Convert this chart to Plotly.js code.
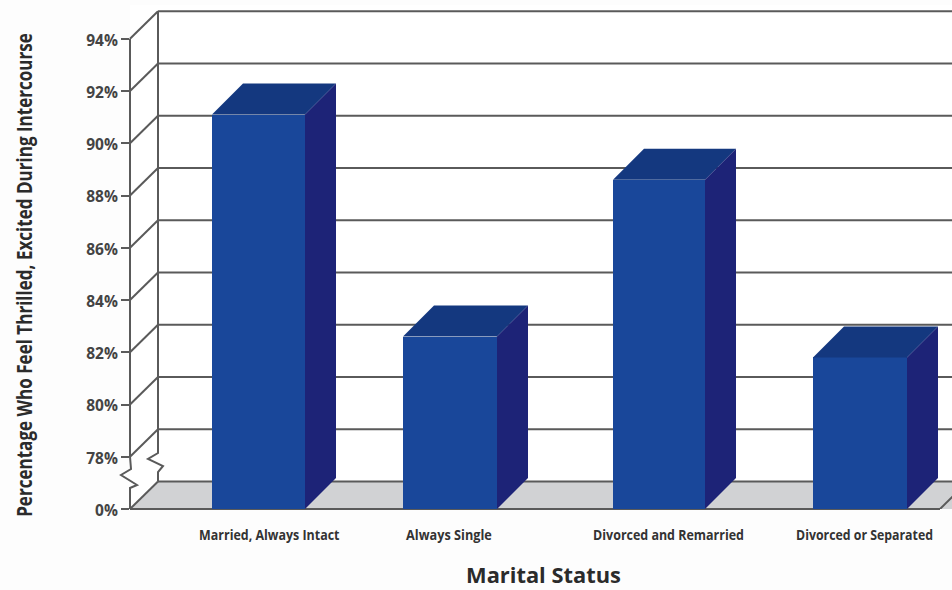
<!DOCTYPE html>
<html>
<head>
<meta charset="utf-8">
<script src="https://cdn.plot.ly/plotly-3.0.1.min.js"></script>
<style>html,body{margin:0;padding:0;background:#fdfdfd}</style>
</head>
<body>
<div id="chart" style="width:952px;height:590px"></div>
<script>
// ---- chart values ----
const categories = ["Married, Always Intact", "Always Single", "Divorced and Remarried", "Divorced or Separated"];
const percentages = [91.1, 82.6, 88.6, 81.8];
const tickValues = [78, 80, 82, 84, 86, 88, 90, 92, 94];
const axisTitleY = "Percentage Who Feel Thrilled, Excited During Intercourse";
const axisTitleX = "Marital Status";

// ---- layout constants (separate from the data) ----
const W = 952, H = 590;
const plotL = 130, plotB = 509, plotT = 5;
const pxPerUnit = 26.125;
const breakBase = 76;                       // axis position of the "0%" tick, below the axis break
const yTop = breakBase + (plotB - plotT) / pxPerUnit;
const barCenters = [258.5, 450, 659, 860];
const barWidths = [93, 94, 92, 94];
const labelCenters = [269.5, 449, 668.5, 864.5];
const labelLengths = [141, 86, 151, 137];
const barDx = 31, barDy = 31 / pxPerUnit;   // bar depth
const wallDx = 28, wallDy = 27.5 / pxPerUnit; // wall / floor depth
const lineColor = "#5a5a5a";
const C = {front: "#19479a", top: "#14387f", side: "#1d2377", floor: "#d1d2d4"};
const FONT = "'Open Sans', 'Noto Sans', sans-serif";

const px = p => (p - plotL) / (W - plotL);  // page x to paper fraction (not clipped to the plot)
const dy = p => p / pxPerUnit;              // pixels to axis units
const hline = {color: lineColor, width: 2};
const seg = (x0, y0, x1, y1) => ({type: "line", layer: "below", xref: "paper", yref: "y",
  x0: px(x0), x1: px(x1), y0, y1, line: hline});
const poly = (xs, ys) => ({type: "path", layer: "below", xref: "paper", yref: "y", line: hline,
  path: xs.map((x, i) => (i ? "L" : "M") + px(x) + "," + ys[i]).join(" ")});

const fx = plotL, bx = plotL + wallDx, floorBack = breakBase + wallDy;
const shapes = [];
// floor
shapes.push({type: "path", layer: "below", xref: "paper", yref: "y", fillcolor: C.floor, line: {width: 0},
  path: `M${px(fx)},${breakBase} L${px(bx)},${floorBack} L${px(W + 40)},${floorBack} L${px(W + 12)},${breakBase} Z`});
shapes.push({type: "line", layer: "below", xref: "paper", yref: "paper", x0: px(fx), x1: px(W - 12), y0: 0, y1: 0, line: hline});
shapes.push(seg(W - 12, breakBase, W + 16, floorBack));
shapes.push(seg(fx, breakBase, bx, floorBack));
shapes.push(seg(bx, floorBack, W + 40, floorBack));
// grid on back wall + diagonals on side wall
tickValues.forEach(v => {
  shapes.push(seg(bx, v + wallDy, W + 40, v + wallDy));
  shapes.push(seg(fx, v, bx, v + wallDy));
});
// front and back verticals with their zigzag breaks
shapes.push(poly(
  [fx, fx, fx + 7, fx - 9, fx + 1, fx, fx],
  [breakBase, breakBase + dy(21), breakBase + dy(24), breakBase + dy(34), breakBase + dy(40), 78, 94]));
shapes.push(poly(
  [bx, bx, bx + 5, bx - 10, bx, bx, bx],
  [floorBack, breakBase + dy(37), breakBase + dy(43), breakBase + dy(50), breakBase + dy(56), 78 + wallDy, 94 + wallDy]));

const traces = [];
// front faces
traces.push({type: "bar", x: barCenters, y: percentages, width: barWidths,
  marker: {color: C.front, line: {width: 0}}, hovertext: categories, hoverinfo: "text+y", showlegend: false});
// top and side faces derived from the values
percentages.forEach((v, i) => {
  const l = barCenters[i] - barWidths[i] / 2, r = barCenters[i] + barWidths[i] / 2;
  traces.push({type: "scatter", mode: "lines", fill: "toself", fillcolor: C.top, line: {width: 0, color: C.top},
    x: [l, r, r + barDx, l + barDx, l], y: [v, v, v + barDy, v + barDy, v], hoverinfo: "skip", showlegend: false});
  traces.push({type: "scatter", mode: "lines", fill: "toself", fillcolor: C.side, line: {width: 0, color: C.side},
    x: [r, r + barDx, r + barDx, r, r], y: [v, v + barDy, breakBase + barDy, breakBase, v], hoverinfo: "skip", showlegend: false});
});

const layout = {
  width: W, height: H,
  paper_bgcolor: "#fdfdfd", plot_bgcolor: "#ffffff",
  margin: {l: plotL, r: 0, t: plotT, b: H - plotB, pad: 0},
  font: {family: FONT, color: "#333"},
  showlegend: false, shapes,
  bargap: 0,
  xaxis: {
    range: [plotL, W], tickmode: "array", tickvals: labelCenters, ticktext: categories,
    showgrid: false, zeroline: false, showline: false, ticks: "", ticklabelstandoff: 15,
    tickfont: {size: 15, family: FONT, weight: 700, color: "#333"},
    title: {text: axisTitleX, standoff: 24, font: {size: 22, family: FONT, weight: 700, color: "#2b2b2b"}}
  },
  yaxis: {
    range: [breakBase, yTop], tickmode: "array",
    tickvals: [breakBase].concat(tickValues), ticktext: ["0%"].concat(tickValues.map(v => v + "%")),
    showgrid: false, zeroline: false, showline: false,
    ticks: "outside", ticklen: 8, tickwidth: 2, tickcolor: lineColor,
    tickfont: {size: 15.5, family: FONT, weight: 700, color: "#444"},
    title: {text: axisTitleY, standoff: 40, font: {size: 22, family: FONT, weight: 700, color: "#2b2b2b"}}
  }
};
Plotly.newPlot("chart", traces, layout, {displayModeBar: false, staticPlot: true}).then(() => {
  // the reference uses a condensed face: scale real text to its measured length and centre
  const fit = (el, cx, cy, sx, sy) => {
    const b = el.getBoundingClientRect();
    const bx0 = (b.left + b.right) / 2, by0 = (b.top + b.bottom) / 2;
    const old = el.getAttribute("transform") || "";
    el.setAttribute("transform",
      `translate(${cx},${cy}) scale(${sx(b)},${sy(b)}) translate(${-bx0},${-by0}) ${old}`);
  };
  const one = () => 1;
  document.querySelectorAll(".xtick text").forEach((el, i) => {
    const b = el.getBoundingClientRect();
    fit(el, labelCenters[i], (b.top + b.bottom) / 2, r => labelLengths[i] / r.width, one);
  });
  document.querySelectorAll(".ytick text").forEach(el => {
    const b = el.getBoundingClientRect();
    fit(el, (b.left + b.right) / 2, (b.top + b.bottom) / 2 + 1.5, one, one);
  });
  const yt = document.querySelector(".ytitle");
  if (yt) fit(yt, 23, 275, one, r => 484 / r.height);
  const xt = document.querySelector(".xtitle");
  if (xt) fit(xt, 543.5, 574, r => 155 / r.width, one);
});
</script>
</body>
</html>
